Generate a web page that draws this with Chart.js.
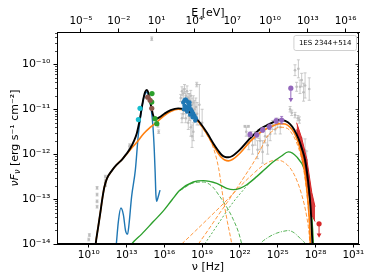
<!DOCTYPE html>
<html>
<head>
<meta charset="utf-8">
<script src="https://cdn.jsdelivr.net/npm/chart.js@4.4.0/dist/chart.umd.min.js"></script>
<style>
  html, body { margin: 0; padding: 0; background: #fff; }
  #wrap { width: 374px; height: 280px; }
</style>
</head>
<body>
<div id="wrap"><canvas id="sed" width="374" height="280"></canvas></div>
<script>
// all values are log10(nu [Hz]) and log10(nuFnu [erg/s/cm2])

// total model (black)
const totalNu = [10.45,10.55,10.75,10.92,11.1,11.25,11.45,11.85,12.2,12.64,13.0,13.3,13.6,13.81,14.0,14.2,14.35,14.47,14.6,14.72,14.85,15.0,15.13,15.3,15.6,16.0,16.5,17.1,17.6,18.2,18.83,19.4,19.89,20.3,20.56,20.8,21.08,21.4,22.0,22.8,23.6,24.13,24.7,25.18,25.6,25.98,26.3,26.64,26.9,27.17,27.43,27.62,27.75,27.8];
const totalF = [-14.3,-14.0,-13.62,-13.3,-12.95,-12.72,-12.54,-12.36,-12.24,-12.12,-11.99,-11.87,-11.7,-11.54,-11.3,-10.98,-10.75,-10.62,-10.57,-10.62,-10.78,-11.0,-11.15,-11.22,-11.18,-11.1,-11.02,-10.98,-11.01,-11.11,-11.3,-11.53,-11.76,-11.93,-12.02,-12.06,-12.07,-12.04,-11.9,-11.65,-11.44,-11.36,-11.28,-11.24,-11.26,-11.33,-11.45,-11.65,-11.86,-12.13,-12.65,-13.24,-14.0,-14.4];

// blob 1 total (orange)
const orangeNu = [10.45,10.55,10.75,10.92,11.1,11.25,11.45,11.85,12.2,12.64,13.0,13.3,13.8,14.37,14.9,15.42,16.0,16.5,17.1,17.6,18.2,18.83,19.4,19.89,20.3,20.56,20.8,21.08,21.4,22.0,22.8,23.6,24.13,24.7,25.18,25.6,25.98,26.3,26.64,27.0,27.3,27.5,27.58,27.62];
const orangeF = [-14.3,-14.0,-13.62,-13.3,-12.95,-12.72,-12.54,-12.36,-12.24,-12.12,-12.0,-11.9,-11.74,-11.54,-11.4,-11.28,-11.14,-11.05,-11.0,-11.03,-11.13,-11.32,-11.56,-11.8,-11.99,-12.08,-12.13,-12.15,-12.12,-11.98,-11.72,-11.52,-11.43,-11.36,-11.32,-11.33,-11.4,-11.52,-11.75,-12.15,-12.75,-13.4,-13.9,-14.3];
// blob 1 pieces (orange dashed)
const oSyncNu = [18.5,19.4,19.89,20.3,20.68,21.0,21.35,21.5];
const oSyncF = [-11.22,-11.58,-11.86,-12.3,-13.0,-13.5,-14.0,-14.3];
const oIcANu = [17.38,18.5,19.6,20.8,22.0,23.0,24.0,24.9,25.6,26.3,26.9,27.3,27.5,27.6];
const oIcAF = [-14.0,-13.7,-13.4,-13.07,-12.72,-12.45,-12.22,-12.13,-12.2,-12.45,-12.9,-13.39,-13.8,-14.2];
const oIcBNu = [18.7,19.5,20.3,21.0,21.7,22.4,23.0,23.6,24.13,24.7,25.18,25.6,25.98,26.64,27.0,27.3,27.5,27.58];
const oIcBF = [-14.0,-13.68,-13.35,-13.07,-12.78,-12.48,-12.22,-11.92,-11.62,-11.46,-11.4,-11.41,-11.48,-11.85,-12.25,-12.85,-13.55,-14.1];

// blob 2 (green)
const greenNu = [13.3,13.41,14.2,15.13,15.87,16.6,17.25,18.3,19.1,20.16,20.95,21.48,22.0,22.54,23.33,24.0,24.65,25.3,25.84,26.51,27.17,27.43,27.7,27.83,27.88];
const greenF = [-14.05,-14.0,-13.78,-13.5,-13.28,-13.02,-12.8,-12.62,-12.59,-12.65,-12.76,-12.79,-12.76,-12.68,-12.5,-12.33,-12.17,-12.04,-11.95,-12.06,-12.36,-12.65,-13.39,-14.0,-14.4];
const gSyncNu = [17.25,18.3,19.1,19.8,20.42,21.0,21.48,21.9,22.14,22.3];
const gSyncF = [-12.81,-12.64,-12.62,-12.72,-12.95,-13.2,-13.46,-13.75,-14.0,-14.2];
const gSscNu = [19.2,19.8,20.4,21.0,21.6,22.2,22.8];
const gSscF = [-14.0,-13.75,-13.5,-13.25,-13.02,-12.82,-12.62];
const gEcNu = [23.4,23.6,24.2,24.9,25.4,25.85,26.3,26.8,27.2,27.35];
const gEcF = [-14.1,-14.0,-13.86,-13.76,-13.72,-13.7,-13.75,-13.88,-14.0,-14.1];

// host galaxy template (blue)
const hostNu = [12.0,12.19,12.35,12.55,12.75,12.92,13.08,13.2,13.4,13.7,13.94,14.15,14.33,14.5,14.6,14.75,14.95,15.1,15.2,15.27,15.33,15.4,15.48,15.58,15.66];
const hostF = [-14.6,-14.0,-13.5,-13.2,-13.35,-13.7,-13.78,-13.55,-12.95,-12.35,-11.55,-11.1,-10.78,-10.64,-10.62,-10.72,-10.98,-11.4,-11.9,-12.4,-12.9,-13.05,-12.98,-12.88,-12.8];

// TeV butterfly (red)
const bowNu = [26.5,26.9,27.3,27.7,27.96];
const bowUpF = [-11.3,-11.64,-12.1,-12.85,-13.17];
const bowLoF = [-11.45,-12.05,-12.6,-13.35,-13.5];

// archival data (grey) with symmetric errors in dex
const grayNu = [10.0,10.05,10.66,10.66,10.66,10.66,11.32,11.32,11.32,13.25,13.25,15.0,15.5,15.55,
  17.3,17.4,17.5,17.6,17.7,17.8,17.9,18.0,18.1,18.2,18.3,18.4,18.5,18.6,18.78,17.5,17.7,17.9,18.1,18.2,18.3,17.4,19.0,18.0,18.57,
  22.4,22.67,22.5,22.7,23.0,23.2,23.4,23.6,23.8,24.0,24.2,24.4,24.6,24.8,25.0,22.9,23.5,25.2,
  26.37,26.5,26.64,26.77,26.9,27.05,27.17,27.5,25.98,26.11,26.37,26.6,26.72,26.9,27.17,27.3];
const grayF = [-13.9,-13.8,-12.75,-12.9,-13.05,-13.17,-12.5,-12.6,-12.69,-11.8,-11.86,-9.43,-11.36,-11.5,
  -10.75,-10.6,-10.65,-10.55,-10.7,-10.6,-10.75,-10.8,-10.7,-10.9,-10.85,-11.0,-10.95,-11.1,-10.9,-11.1,-11.2,-11.3,-11.4,-11.6,-11.5,-11.2,-11.3,-11.15,-10.45,
  -11.38,-11.38,-11.5,-11.75,-11.8,-11.65,-11.9,-11.7,-11.95,-11.6,-11.8,-11.55,-11.35,-11.45,-11.3,-11.6,-11.55,-11.4,
  -10.13,-10.5,-10.1,-10.5,-10.35,-10.62,-10.47,-10.55,-11.0,-11.08,-11.13,-11.2,-11.24,-11.84,-11.91,-12.13];
const grayErr = [0.03,0.03,0.03,0.03,0.03,0.03,0.03,0.03,0.03,0.03,0.03,0.04,0.04,0.04,
  0.08,0.1,0.1,0.1,0.1,0.12,0.1,0.15,0.12,0.15,0.15,0.2,0.2,0.25,0.45,0.1,0.1,0.15,0.2,0.25,0.2,0.1,0.3,0.1,0.05,
  0.02,0.02,0.1,0.15,0.2,0.15,0.2,0.2,0.25,0.15,0.2,0.15,0.1,0.1,0.1,0.1,0.1,0.15,
  0.12,0.1,0.2,0.15,0.15,0.2,0.28,0.25,0.06,0.06,0.06,0.06,0.07,0.2,0.25,0.2];

// simultaneous data
const xrayNu = [17.5,17.6,17.7,17.8,17.9,17.6,17.75,17.9,18.0,18.1,18.2,18.3,18.4,18.5,17.55,17.8,18.05,18.25,18.45,18.0];
const xrayF = [-10.85,-10.8,-10.78,-10.82,-10.86,-10.92,-10.95,-10.98,-10.92,-11.0,-11.05,-11.1,-11.15,-11.2,-11.0,-11.05,-11.12,-11.18,-11.25,-10.85];
const cyanNu = [13.94,14.07];
const cyanF = [-11.23,-10.98];
const brownNu = [14.68,14.87,15.0];
const brownF = [-10.73,-10.8,-10.98];
const optNu = [15.02,15.0,15.26,15.4];
const optF = [-10.65,-10.84,-11.21,-11.32];
const fermiNu = [22.8,23.33,23.8,24.33,24.87,25.31];
const fermiF = [-11.56,-11.57,-11.46,-11.39,-11.26,-11.24];
const fermiErr = [0.05,0.05,0.05,0.06,0.06,0.08];
// upper limits: point and arrow tip
const fermiUlNu = [26.04];
const fermiUlF = [-10.53];
const fermiUlTip = [-10.78];
const tevUlNu = [28.28];
const tevUlF = [-13.55];
const tevUlTip = [-13.8];

// axes
const nuTickExp = [10, 13, 16, 19, 22, 25, 28, 31];
const eTickExp = [-5, -2, 1, 4, 7, 10, 13, 16];
const fTickExp = [-14, -13, -12, -11, -10];
const nuMinExp = 7.48, nuMaxExp = 31.45;
const fMinExp = -14, fMaxExp = -9.28;
const H_EV = 4.135667e-15;

const SUP = { '-': '\u207b', '0': '\u2070', '1': '\u00b9', '2': '\u00b2', '3': '\u00b3', '4': '\u2074', '5': '\u2075', '6': '\u2076', '7': '\u2077', '8': '\u2078', '9': '\u2079' };
function powLabel(v) {
  const e = Math.round(Math.log10(v));
  return '10' + String(e).split('').map(c => SUP[c]).join('');
}
function pts(nu, f) {
  return nu.map((v, i) => ({ x: 10 ** v, y: 10 ** f[i] }));
}

const GRAY = '#bdbdbd';
Chart.defaults.font.family = '"DejaVu Sans", sans-serif';
Chart.defaults.color = '#000';

function curve(nu, f, color, width, dash, order) {
  return {
    data: pts(nu, f), borderColor: color, borderWidth: width, borderDash: dash || [],
    pointRadius: 0, fill: false, cubicInterpolationMode: 'monotone', order: order, clip: 0
  };
}
function dots(nu, f, color, r, order, style, rot) {
  return {
    data: pts(nu, f), showLine: false, pointRadius: r, pointBackgroundColor: color,
    pointBorderColor: color, pointBorderWidth: 0, pointStyle: style || 'circle',
    pointRotation: rot || 0, order: order
  };
}

function drawBars(chart, nu, f, err, color) {
  const { ctx, chartArea: a, scales: { x, y } } = chart;
  ctx.save();
  ctx.beginPath();
  ctx.rect(a.left, a.top, a.right - a.left, a.bottom - a.top);
  ctx.clip();
  ctx.strokeStyle = color;
  ctx.lineWidth = 0.8;
  nu.forEach((v, i) => {
    const px = x.getPixelForValue(10 ** v);
    const y1 = y.getPixelForValue(10 ** (f[i] - err[i]));
    const y2 = y.getPixelForValue(10 ** (f[i] + err[i]));
    ctx.beginPath();
    ctx.moveTo(px, y1); ctx.lineTo(px, y2);
    ctx.moveTo(px - 1.5, y1); ctx.lineTo(px + 1.5, y1);
    ctx.moveTo(px - 1.5, y2); ctx.lineTo(px + 1.5, y2);
    ctx.stroke();
  });
  ctx.restore();
}
function drawLimits(chart, nu, f, tip, color) {
  const { ctx, scales: { x, y } } = chart;
  ctx.save();
  ctx.strokeStyle = color;
  ctx.lineWidth = 1;
  nu.forEach((v, i) => {
    const px = x.getPixelForValue(10 ** v);
    ctx.beginPath();
    ctx.moveTo(px, y.getPixelForValue(10 ** f[i]));
    ctx.lineTo(px, y.getPixelForValue(10 ** tip[i]));
    ctx.moveTo(px - 1.5, y.getPixelForValue(10 ** f[i]));
    ctx.lineTo(px + 1.5, y.getPixelForValue(10 ** f[i]));
    ctx.stroke();
  });
  ctx.restore();
}

const decor = {
  id: 'decor',
  beforeDatasetsDraw(chart) {
    drawBars(chart, grayNu, grayF, grayErr, GRAY);
  },
  afterDatasetsDraw(chart) {
    drawBars(chart, fermiNu, fermiF, fermiErr, '#9467bd');
    drawLimits(chart, fermiUlNu, fermiUlF, fermiUlTip, '#9467bd');
    drawLimits(chart, tevUlNu, tevUlF, tevUlTip, '#d62728');
  },
  afterDraw(chart) {
    const { ctx, chartArea: a, scales: { y } } = chart;
    ctx.save();
    // frame
    ctx.strokeStyle = '#000';
    ctx.lineWidth = 1;
    ctx.strokeRect(a.left + 0.5, a.top + 0.5, a.right - a.left - 1, a.bottom - a.top - 1);
    // y ticks: minor outside left, all inside right
    ctx.beginPath();
    for (let e = -14; e <= -10; e++) {
      for (let k = 1; k <= 9; k++) {
        const v = k * 10 ** e;
        if (v > 10 ** fMaxExp) continue;
        const py = Math.round(y.getPixelForValue(v)) + 0.5;
        const len = k === 1 ? 3.5 : 2;
        if (k > 1) { ctx.moveTo(a.left, py); ctx.lineTo(a.left - len, py); }
        ctx.moveTo(a.right, py); ctx.lineTo(a.right - len, py);
      }
    }
    ctx.lineWidth = 0.7;
    ctx.stroke();
    // y title
    ctx.translate(15, (a.top + a.bottom) / 2);
    ctx.rotate(-Math.PI / 2);
    ctx.fillStyle = '#000';
    ctx.textBaseline = 'middle';
    const f1 = 'italic 11px "DejaVu Sans"', f2 = 'italic 8px "DejaVu Sans"', f3 = '11px "DejaVu Sans"';
    const t1 = '\u03bdF', t2 = '\u03bd', t3 = ' [erg s\u207b\u00b9 cm\u207b\u00b2]';
    ctx.font = f1; const w1 = ctx.measureText(t1).width;
    ctx.font = f2; const w2 = ctx.measureText(t2).width;
    ctx.font = f3; const w3 = ctx.measureText(t3).width;
    let cx = -(w1 + w2 + w3) / 2;
    ctx.textAlign = 'left';
    ctx.font = f1; ctx.fillText(t1, cx, 0); cx += w1;
    ctx.font = f2; ctx.fillText(t2, cx, 3); cx += w2;
    ctx.font = f3; ctx.fillText(t3, cx, 0);
    ctx.restore();
    // source label box
    ctx.save();
    const label = '1ES 2344+514';
    ctx.font = '7px "DejaVu Sans"';
    const bw = ctx.measureText(label).width + 10, bh = 15;
    const bx = a.right - 3 - bw, by = a.top + 3;
    ctx.beginPath();
    ctx.roundRect(bx + 0.5, by + 0.5, bw, bh, 2);
    ctx.fillStyle = 'rgba(255,255,255,0.85)';
    ctx.fill();
    ctx.strokeStyle = '#d0d0d0';
    ctx.lineWidth = 1;
    ctx.stroke();
    ctx.fillStyle = '#000';
    ctx.textAlign = 'center';
    ctx.textBaseline = 'middle';
    ctx.fillText(label, bx + bw / 2 + 0.5, by + bh / 2 + 0.5);
    ctx.restore();
  }
};

const datasets = [
  dots(grayNu, grayF, GRAY, 1.3, 20),
  curve(oIcANu, oIcAF, '#ff7f0e', 0.8, [4, 2], 12),
  curve(oIcBNu, oIcBF, '#ff7f0e', 0.8, [4, 2], 12),
  curve(oSyncNu, oSyncF, '#ff7f0e', 0.8, [4, 2], 12),
  curve(gSyncNu, gSyncF, '#2ca02c', 0.8, [4, 2], 12),
  curve(gSscNu, gSscF, '#2ca02c', 0.8, [2, 2], 12),
  curve(gEcNu, gEcF, '#2ca02c', 0.8, [4, 1.5, 1, 1.5], 12),
  curve(hostNu, hostF, '#1f77b4', 1.4, [], 9),
  curve(greenNu, greenF, '#2ca02c', 1.4, [], 8),
  Object.assign(curve(bowNu, bowUpF, '#d62728', 1, [], 7), { fill: '+1', backgroundColor: 'rgba(214,39,40,0.9)', cubicInterpolationMode: 'default', tension: 0 }),
  Object.assign(curve(bowNu, bowLoF, '#d62728', 1, [], 7), { cubicInterpolationMode: 'default', tension: 0 }),
  curve(orangeNu, orangeF, '#ff7f0e', 1.6, [], 6),
  curve(totalNu, totalF, '#000000', 1.9, [], 5),
  dots(xrayNu, xrayF, '#1f77b4', 2.2, 3),
  dots(cyanNu, cyanF, '#17becf', 2.6, 2),
  dots(brownNu, brownF, '#8c564b', 2.6, 2),
  dots(optNu, optF, '#2ca02c', 2.6, 2),
  dots(fermiNu, fermiF, '#9467bd', 2.6, 2),
  dots(fermiUlNu, fermiUlF, '#9467bd', 2.6, 2),
  dots(fermiUlNu, fermiUlTip, '#9467bd', 2.8, 2, 'triangle', 180),
  dots(tevUlNu, tevUlF, '#d62728', 2.6, 2),
  dots(tevUlNu, tevUlTip, '#d62728', 2.8, 2, 'triangle', 180)
];

new Chart(document.getElementById('sed'), {
  type: 'line',
  data: { datasets: datasets },
  options: {
    responsive: false,
    devicePixelRatio: 1,
    animation: false,
    events: [],
    layout: { padding: { left: 0, right: 15, top: 0, bottom: 0 } },
    plugins: { legend: { display: false }, tooltip: { enabled: false } },
    scales: {
      x: {
        type: 'logarithmic', position: 'bottom',
        min: 10 ** nuMinExp, max: 10 ** nuMaxExp,
        afterBuildTicks: s => { s.ticks = nuTickExp.map(e => ({ value: 10 ** e })); },
        afterFit: s => { s.height = 36; },
        ticks: { callback: v => powLabel(v), autoSkip: false, maxRotation: 0, padding: 1, font: { size: 10.5 } },
        grid: { drawOnChartArea: false, tickLength: 3.5, color: '#000' },
        border: { color: '#000' },
        title: { display: true, text: '\u03bd [Hz]', font: { size: 11 }, padding: { top: 0, bottom: 6 } }
      },
      x2: {
        type: 'logarithmic', position: 'top',
        min: 10 ** nuMinExp * H_EV, max: 10 ** nuMaxExp * H_EV,
        afterBuildTicks: s => { s.ticks = eTickExp.map(e => ({ value: 10 ** e })); },
        afterFit: s => { s.height = 32; },
        ticks: { callback: v => powLabel(v), autoSkip: false, maxRotation: 0, padding: 1, font: { size: 10.5 } },
        grid: { drawOnChartArea: false, tickLength: 3.5, color: '#000' },
        border: { color: '#000' },
        title: { display: true, text: 'E [eV]', font: { size: 11 }, padding: { top: 7, bottom: 0 } }
      },
      y: {
        type: 'logarithmic', position: 'left',
        min: 10 ** fMinExp, max: 10 ** fMaxExp,
        afterBuildTicks: s => { s.ticks = fTickExp.map(e => ({ value: 10 ** e })); },
        afterFit: s => { s.width = 57; },
        ticks: { callback: v => powLabel(v), autoSkip: false, padding: 3, font: { size: 11 } },
        grid: { drawOnChartArea: false, tickLength: 3.5, color: '#000' },
        border: { color: '#000' }
      }
    }
  },
  plugins: [decor]
});
</script>
</body>
</html>
